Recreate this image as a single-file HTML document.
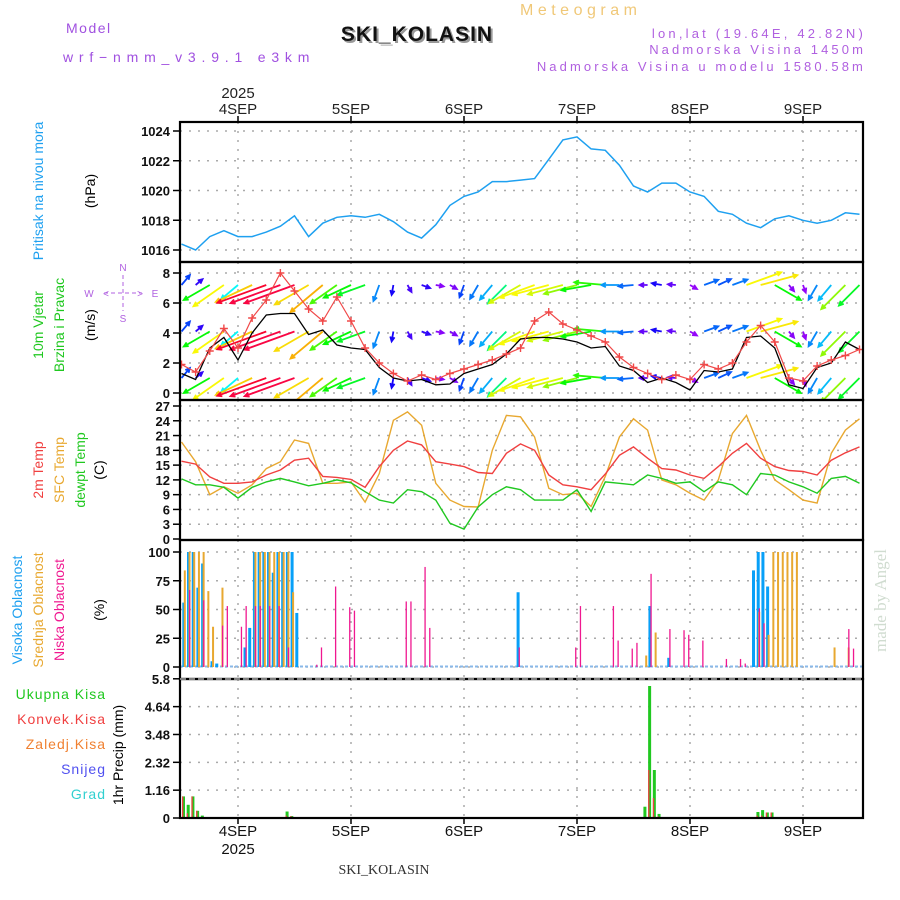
<!DOCTYPE html>
<html><head><meta charset="utf-8"><style>
body{margin:0;background:#fff;}
svg{display:block;font-family:"Liberation Sans",sans-serif;}
</style></head><body>
<svg id="chart" width="900" height="900" viewBox="0 0 900 900" xmlns="http://www.w3.org/2000/svg">
<rect width="900" height="900" fill="#fff"/>
<text x="66" y="33" fill="#a050e0" font-size="14" letter-spacing="1.5">Model</text>
<text x="63" y="62" fill="#a050e0" font-size="14" letter-spacing="5.8">wrf−nmm_v3.9.1 e3km</text>
<text x="520" y="15" fill="#f0c878" font-size="16" letter-spacing="4.5">Meteogram</text>
<text x="419" y="43" fill="#999" font-size="21" font-weight="bold" text-anchor="middle" letter-spacing="1">SKI_KOLASIN</text>
<text x="417" y="41" fill="#111" font-size="21" font-weight="bold" text-anchor="middle" letter-spacing="1">SKI_KOLASIN</text>
<text x="866" y="38" fill="#b060e0" font-size="13" letter-spacing="3.2" text-anchor="end">lon,lat (19.64E, 42.82N)</text>
<text x="866" y="54" fill="#b060e0" font-size="13" letter-spacing="3.1" text-anchor="end">Nadmorska Visina 1450m</text>
<text x="866" y="71" fill="#b060e0" font-size="13" letter-spacing="3.1" text-anchor="end">Nadmorska Visina u modelu 1580.58m</text>
<text x="384" y="874" fill="#333" font-size="14" font-family="Liberation Serif, serif" text-anchor="middle">SKI_KOLASIN</text>
<text transform="translate(886,652) rotate(-90)" fill="#d0dcd0" font-size="17" font-family="Liberation Serif, serif">made by Angel</text>

<text transform="translate(43,191) rotate(-90)" fill="#1ea0f0" font-size="14" text-anchor="middle">Pritisak na nivou mora</text>
<text transform="translate(95,191) rotate(-90)" fill="#000" font-size="14" text-anchor="middle">(hPa)</text>
<text transform="translate(43,325) rotate(-90)" fill="#20c820" font-size="14" text-anchor="middle">10m Vjetar</text>
<text transform="translate(64,325) rotate(-90)" fill="#20c820" font-size="14" text-anchor="middle">Brzina i Pravac</text>
<text transform="translate(95,325) rotate(-90)" fill="#000" font-size="14" text-anchor="middle">(m/s)</text>
<g fill="#b060e0" font-size="10" text-anchor="middle">
<text x="123" y="271">N</text>
<line x1="123" y1="275" x2="123" y2="311" stroke="#b060e0" stroke-width="1" stroke-dasharray="4,3"/>
<line x1="104" y1="293" x2="142" y2="293" stroke="#b060e0" stroke-width="1" stroke-dasharray="4,3"/>
<text x="89" y="297">W</text><text x="106" y="297">&lt;</text><text x="140" y="297">&gt;</text><text x="155" y="297">E</text>
<text x="123" y="322">S</text>
</g>
<text transform="translate(43,470) rotate(-90)" fill="#f04040" font-size="14" text-anchor="middle">2m Temp</text>
<text transform="translate(64,470) rotate(-90)" fill="#e8a830" font-size="14" text-anchor="middle">SFC Temp</text>
<text transform="translate(85,470) rotate(-90)" fill="#20c820" font-size="14" text-anchor="middle">dewpt Temp</text>
<text transform="translate(104,470) rotate(-90)" fill="#000" font-size="14" text-anchor="middle">(C)</text>
<text transform="translate(22,610) rotate(-90)" fill="#1ea0f0" font-size="14" text-anchor="middle">Visoka Oblacnost</text>
<text transform="translate(43,610) rotate(-90)" fill="#e8a830" font-size="14" text-anchor="middle">Srednja Oblacnost</text>
<text transform="translate(64,610) rotate(-90)" fill="#f01890" font-size="14" text-anchor="middle">Niska Oblacnost</text>
<text transform="translate(104,610) rotate(-90)" fill="#000" font-size="14" text-anchor="middle">(%)</text>
<g font-size="14" text-anchor="end" letter-spacing="1">
<text x="106" y="699" fill="#20c820">Ukupna Kisa</text>
<text x="106" y="724" fill="#f04040">Konvek.Kisa</text>
<text x="106" y="749" fill="#f08030">Zaledj.Kisa</text>
<text x="106" y="774" fill="#5050f0">Snijeg</text>
<text x="106" y="799" fill="#30d0d0">Grad</text>
</g>
<text transform="translate(123,755) rotate(-90)" fill="#000" font-size="14" text-anchor="middle">1hr Precip (mm)</text>
<g id="plot"></g>
</svg>
<script>
// time axis (hours from 4 SEP 00 UTC), 3-hourly samples
const hours3 = [-12,-9,-6,-3,0,3,6,9,12,15,18,21,24,27,30,33,36,39,42,45,48,51,54,57,60,63,66,69,72,75,78,81,84,87,90,93,96,99,102,105,108,111,114,117,120,123,126,129,132];
const dayHours = [0,24,48,72,96,120];
const dayLabels = ['4SEP','5SEP','6SEP','7SEP','8SEP','9SEP'];
const pressure = [1016.4,1016.0,1016.9,1017.3,1016.9,1016.9,1017.2,1017.6,1018.3,1016.9,1017.8,1018.2,1018.3,1018.2,1018.4,1017.9,1017.2,1016.8,1017.7,1019.0,1019.6,1019.9,1020.6,1020.6,1020.7,1020.8,1022.1,1023.4,1023.6,1022.8,1022.7,1021.7,1020.3,1019.9,1020.5,1020.5,1019.9,1019.6,1018.6,1018.4,1017.8,1017.5,1018.1,1018.3,1018.0,1017.8,1018.0,1018.5,1018.4];
const windSpeed = [1.3,0.9,3.0,3.7,2.2,4.0,5.2,5.3,5.3,3.9,4.2,3.2,3.0,2.9,1.7,1.0,0.8,0.9,0.55,0.6,1.3,1.6,1.9,2.6,3.6,3.7,3.7,3.6,3.4,3.0,3.1,1.8,1.5,0.7,1.0,0.7,0.2,1.5,1.4,1.6,3.7,3.8,3.0,0.55,0.3,1.7,2.0,3.4,2.9];
const windGust = [1.9,1.4,2.8,4.3,3.0,5.0,6.2,8.0,6.8,5.6,4.8,6.4,4.8,3.0,2.0,1.3,0.8,1.2,0.9,1.3,1.6,1.9,2.2,2.6,3.0,4.8,5.4,4.6,4.2,3.8,3.4,2.4,1.7,1.3,0.9,1.2,0.9,1.9,1.6,2.0,3.4,4.5,3.4,1.0,0.8,1.8,2.2,2.5,2.9];
const windDir = [220,230,60,55,50,65,70,70,70,60,50,55,65,70,20,10,330,290,280,300,20,30,40,45,60,70,75,75,75,80,95,90,85,90,100,95,300,250,245,250,250,255,300,320,340,30,40,45,45];
const temp2m = [15.8,15.2,12.6,11.3,11.3,11.6,13.0,14.0,16.0,16.4,12.7,12.5,12.1,10.5,14.7,18.0,19.9,19.1,15.7,15.2,14.7,13.5,13.3,17.4,19.3,18.0,13.0,11.0,10.6,10.0,13.2,17.0,18.7,16.4,14.3,14.0,13.0,12.3,14.7,17.4,19.4,16.4,14.7,13.9,13.7,13.0,16.0,17.5,18.7];
const tempSfc = [19.7,15.7,9.0,10.6,9.3,11.0,14.3,15.7,20.1,19.4,11.3,11.3,11.6,7.5,13.3,24.1,25.8,23.1,11.3,7.9,6.6,6.5,18.0,25.1,24.8,20.7,10.3,9.0,9.3,6.6,12.7,20.7,24.4,22.1,12.0,11.0,9.3,7.9,12.0,21.4,25.1,18.0,12.0,10.0,7.9,7.3,17.4,22.1,24.4];
const tempDew = [12.2,11.0,11.0,10.5,8.3,10.5,11.6,12.3,11.6,10.8,11.3,12.0,11.4,9.6,7.9,7.3,10.0,9.6,7.9,3.2,2.0,6.5,9.0,10.6,10.0,7.9,7.9,7.9,10.0,5.6,11.6,11.3,11.0,13.0,12.3,11.3,11.6,9.6,11.6,11.0,9.0,13.3,13.0,11.6,10.6,9.3,12.3,12.7,11.3];
// cloud cover (hourly, sparse)
const highHours = [-12,-11,-10,-9,-8,-6,-5,1,2,3,4,5,6,7,8,9,10,11,12,59,87,91,109,110,111,112];
const highVals  = [56,100,100,69,90,5,3,17,34,100,100,100,100,82,100,100,100,100,47,65,53,8,84,100,100,70];
const midHours = [-12,-11,-10,-9,-8,-7,-6,-4,3,4,5,6,7,8,9,10,11,86,88,110,112,113,114,115,116,117,118,126,129];
const midVals  = [84,100,100,100,100,66,35,69,100,100,100,100,100,100,100,100,65,10,30,48,28,100,100,100,100,100,100,17,17];
const lowHours = [-11,-8,-4,-3,0,1,3,4,6,8,10,16,17,20,23,24,35,36,39,40,59,71,72,79,80,83,84,87,91,94,95,98,103,106,107,110,111,129,130];
const lowVals  = [67,58,36,53,35,53,53,53,53,53,17,2,17,70,52,49,57,57,87,34,17,17,53,53,23,16,21,81,33,32,28,23,7,7,3,51,38,33,16];
// precipitation (hourly, sparse)
const precipHours = [-12,-11,-10,-9,-8,10,11,86,87,88,89,110,111,112,113];
const precipTotal = [0.9,0.55,0.9,0.3,0.1,0.27,0.08,0.47,5.5,2.0,0.17,0.25,0.33,0.23,0.23];
const precipConv  = [0.9,0.2,0.9,0.3,0,0.1,0.08,0,2.0,0.83,0.07,0.1,0.1,0.23,0.23];
const pressTicks = [1016,1018,1020,1022,1024];
const windTicks = [0,2,4,6,8];
const tempTicks = [0,3,6,9,12,15,18,21,24,27];
const cloudTicks = [0,25,50,75,100];
const precipTicks = [0,1.16,2.32,3.48,4.64,5.8];

const NS='http://www.w3.org/2000/svg';
const plot=document.getElementById('plot');
const L=180,R=863;
const xOf=t=>238+t*113/24;
const yP=v=>250-(v-1016)*14.875;
const yW=v=>393-v*15;
const yT=v=>539-v*4.926;
const yC=v=>667-v*1.15;
const yR=v=>818-v*24;
function mk(tag,attrs,parent){const e=document.createElementNS(NS,tag);for(const k in attrs)e.setAttribute(k,attrs[k]);(parent||plot).appendChild(e);return e;}
const panels=[{top:122,bot:262,ticks:pressTicks,y:yP,name:'pressure',fmt:v=>v},
{top:262,bot:400,ticks:windTicks,y:yW,name:'wind',fmt:v=>v},
{top:400,bot:540,ticks:tempTicks,y:yT,name:'temp',fmt:v=>v},
{top:540,bot:679,ticks:cloudTicks,y:yC,name:'cloud',fmt:v=>v},
{top:679,bot:818,ticks:precipTicks,y:yR,name:'precip',fmt:v=>v}];
const defs=mk('defs',{});
panels.forEach(p=>{
  const cp=mk('clipPath',{id:'clip-'+p.name},defs);
  mk('rect',{x:L,y:p.top,width:R-L,height:p.bot-p.top},cp);
  p.ticks.forEach(v=>{
    const yy=p.y(v);
    if(yy>p.top+2&&yy<p.bot-2){const g=mk('line',{x1:L,x2:R,y1:yy,y2:yy,stroke:'#aaa','stroke-width':1.5,'stroke-dasharray':'2,7'});
    
    }
    const tk=mk('line',{x1:173,x2:L,y1:yy,y2:yy,stroke:'#000','stroke-width':1.5});
    
    
    const tx=mk('text',{x:170,y:yy+5,'text-anchor':'end','font-size':13,'font-weight':'bold',fill:'#111'});
    tx.textContent=p.fmt(v);
    
    
  });
  dayHours.forEach(d=>{const vx=xOf(d);const g=mk('line',{x1:vx,x2:vx,y1:p.top,y2:p.bot,stroke:'#aaa','stroke-width':1.5,'stroke-dasharray':'2,7'});
    
    });
});
// day labels
dayHours.forEach((d,i)=>{
  const tt=mk('text',{x:xOf(d),y:114,'text-anchor':'middle','font-size':15,fill:'#222'});tt.textContent=dayLabels[i];
  
  
  const tb=mk('text',{x:xOf(d),y:836,'text-anchor':'middle','font-size':15,fill:'#111'});tb.textContent=dayLabels[i];
  
  
  mk('line',{x1:xOf(d),x2:xOf(d),y1:116,y2:122,stroke:'#000','stroke-width':1.5});
  mk('line',{x1:xOf(d),x2:xOf(d),y1:818,y2:824,stroke:'#000','stroke-width':1.5});
});
const y1=mk('text',{x:xOf(0),y:98,'text-anchor':'middle','font-size':15,fill:'#222'});y1.textContent='2025';


const y2=mk('text',{x:xOf(0),y:854,'text-anchor':'middle','font-size':15,fill:'#111'});y2.textContent='2025';



function line(vals,yf,color,clip,name,w){
  const pts=hours3.map((t,i)=>xOf(t).toFixed(1)+','+yf(vals[i]).toFixed(1)).join(' ');
  const pl=mk('polyline',{points:pts,fill:'none',stroke:color,'stroke-width':w||1.3,'clip-path':'url(#clip-'+clip+')'});
  
  
}
line(pressure,yP,'#1ea0f0','pressure','pressure-line',1.5);

// wind arrows
function hueFor(s){const stops=[[0.5,275],[1.3,225],[2,195],[3,120],[3.7,60],[4.4,35],[5,0],[5.6,-30]];
  if(s<=stops[0][0])return stops[0][1];
  for(let i=1;i<stops.length;i++){if(s<=stops[i][0]){const a=stops[i-1],b=stops[i];return a[1]+(b[1]-a[1])*(s-a[0])/(b[0]-a[0]);}}
  return -30;}
const wg=mk('g',{'clip-path':'url(#clip-wind)'});
[7.2,4.1,1.0].forEach(lv=>{
  hours3.forEach((t,i)=>{
    const s=windSpeed[i],d=windDir[i]*Math.PI/180;
    const len=Math.max(8,s*10);
    const dx=-Math.sin(d),dy=Math.cos(d);
    const x0=xOf(t),y0=yW(lv),x1=x0+dx*len,y1=y0+dy*len;
    const h=(hueFor(s)+360)%360;
    const col='hsl('+h.toFixed(0)+',95%,50%)';
    const ax=Math.atan2(dy,dx);
    const hx1=x1-5*Math.cos(ax-0.45),hy1=y1-5*Math.sin(ax-0.45),hx2=x1-5*Math.cos(ax+0.45),hy2=y1-5*Math.sin(ax+0.45);
    const a=mk('path',{d:`M${x0},${y0}L${x1},${y1}M${hx1},${hy1}L${x1},${y1}L${hx2},${hy2}`,stroke:col,'stroke-width':1.8,fill:'none'},wg);
    
    
  });
});
line(windSpeed,yW,'#000','wind','wind-speed-line',1.3);
line(windGust,yW,'#f04848','wind','wind-gust-line',1.2);
hours3.forEach((t,i)=>{const cx=xOf(t),cy=yW(windGust[i]);
  const m=mk('path',{d:`M${cx-4},${cy}h8M${cx},${cy-4}v8`,stroke:'#f04848','stroke-width':1.4,'clip-path':'url(#clip-wind)'});
  
  });

line(tempSfc,yT,'#e8a830','temp','sfc-temp-line',1.4);
line(temp2m,yT,'#f04040','temp','temp-2m-line',1.4);
line(tempDew,yT,'#20c820','temp','dewpoint-line',1.4);

// clouds
const base=mk('line',{x1:L,x2:R,y1:666.5,y2:666.5,stroke:'#8ab8e8','stroke-width':2,'stroke-dasharray':'3,2'});


highHours.forEach((t,i)=>{const b=mk('rect',{x:xOf(t)+0.8,y:yC(highVals[i]),width:3,height:667-yC(highVals[i]),fill:'#08a0f8'});
  
  });
midHours.forEach((t,i)=>{const b=mk('rect',{x:xOf(t)+2.3,y:yC(midVals[i]),width:2,height:667-yC(midVals[i]),fill:'#e8a830'});
  
  });
lowHours.forEach((t,i)=>{const b=mk('rect',{x:xOf(t)+2.8,y:yC(lowVals[i]),width:1.3,height:667-yC(lowVals[i]),fill:'#f01890'});
  
  });

// precipitation
precipHours.forEach((t,i)=>{
  const g=mk('rect',{x:xOf(t)+0.5,y:yR(precipTotal[i]),width:3,height:818-yR(precipTotal[i]),fill:'#20c820'});
  
  
  if(precipConv[i]>0){const r=mk('rect',{x:xOf(t)+0.5,y:yR(precipConv[i]),width:1.3,height:818-yR(precipConv[i]),fill:'#f04040'});
  
  }
});

// borders
panels.forEach(p=>{const b=mk('rect',{x:L,y:p.top,width:R-L,height:p.bot-p.top,fill:'none',stroke:'#000','stroke-width':2.2});
  
  });
const dl=mk('line',{x1:L,x2:R,y1:679,y2:679,stroke:'#fff','stroke-width':1,'stroke-dasharray':'6,3'});


</script>
</body></html>
